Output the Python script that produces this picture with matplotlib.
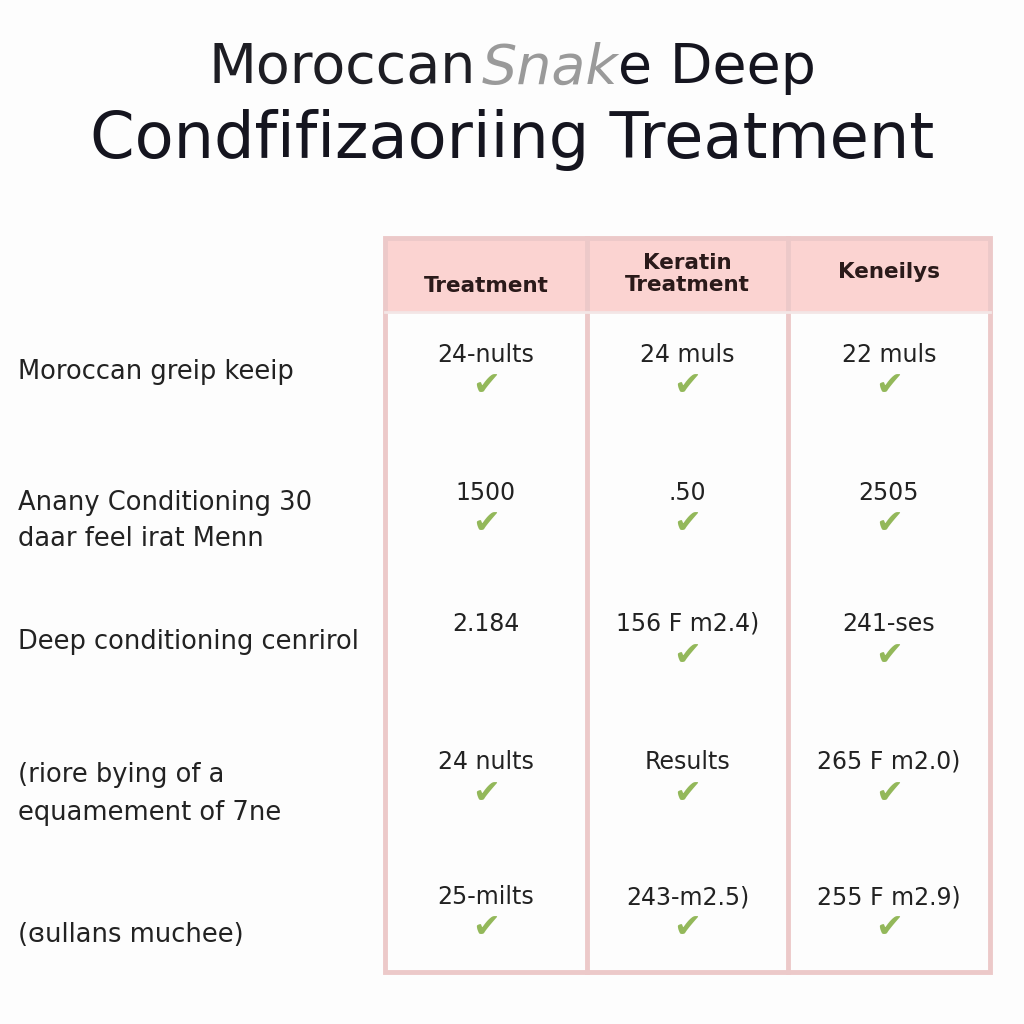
import matplotlib.pyplot as plt
from matplotlib.patches import Rectangle

# table content
col_headers = ['Treatment', 'Keratin\nTreatment', 'Keneilys']
row_labels = ['Moroccan greip keeip',
              'Anany Conditioning 30\ndaar feel irat Menn',
              'Deep conditioning cenrirol',
              '(riore bying of a\nequamement of 7ne',
              '(ɞullans muchee)']
cell_text = [['24-nults', '24 muls', '22 muls'],
             ['1500', '.50', '2505'],
             ['2.184', '156 F m2.4)', '241-ses'],
             ['24 nults', 'Results', '265 F m2.0)'],
             ['25-milts', '243-m2.5)', '255 F m2.9)']]
checked = [[1, 1, 1],
           [1, 1, 1],
           [0, 1, 1],
           [1, 1, 1],
           [1, 1, 1]]
title_parts = ['Moroccan', 'Snak', 'e Deep']
title_line2 = 'Condfifizaoriing Treatment'

# layout in pixel units of the 1024 canvas
col_edges = [385, 587, 788, 990]
table_top, header_bottom, table_bottom = 238, 312, 972
row_text_y = [355, 493, 624, 762, 897]
row_label_y = [372, 521, 642, 794, 935]

plt.rcParams['font.family'] = ['DejaVu Sans']

fig = plt.figure(figsize=(10.24, 10.24), dpi=100)
ax = fig.add_axes([0, 0, 1, 1])
ax.set_xlim(0, 1024)
ax.set_ylim(1024, 0)
ax.axis('off')
fig.patch.set_facecolor('#fdfdfd')

# title line 1, three pieces laid side by side then centred
dark = '#15151f'
styles = [dict(color='#1e1e24'),
          dict(color='#9a9a9a', style='italic',
               family=['Liberation Sans Narrow', 'DejaVu Sans']),
          dict(color=dark)]
pieces = []
x = 0
fig.canvas.draw()
r = fig.canvas.get_renderer()
for txt, st in zip(title_parts, styles):
    t = ax.text(x, 68, txt, fontsize=40, va='center', ha='left', **st)
    w = t.get_window_extent(renderer=r).width
    pieces.append((t, w))
    x += w
gap = 6
total = sum(w for _, w in pieces) + gap
x = 512 - total / 2
for k, (t, w) in enumerate(pieces):
    t.set_x(x)
    x += w + (gap if k == 0 else 0)
ax.text(512, 140, title_line2, fontsize=46, color=dark,
        va='center', ha='center')

# header band and grid
border = '#ecc9c9'
ax.add_patch(Rectangle((col_edges[0], table_top), col_edges[-1] - col_edges[0],
                       header_bottom - table_top, facecolor='#fbd3d1', edgecolor='none'))
ax.add_patch(Rectangle((col_edges[0], table_top), col_edges[-1] - col_edges[0],
                       table_bottom - table_top, facecolor='none', edgecolor=border, lw=3.5))
for xe in col_edges[1:-1]:
    ax.plot([xe, xe], [table_top, table_bottom], color=border, lw=3.5)
ax.plot([col_edges[0], col_edges[-1]], [header_bottom, header_bottom], color='#f3e6e6', lw=2)

header_y = [286, 274, 272]
for j, h in enumerate(col_headers):
    cx = (col_edges[j] + col_edges[j + 1]) / 2
    ax.text(cx, header_y[j], h, fontsize=15.5, fontweight='bold', color='#2a1a1a',
            ha='center', va='center', linespacing=1.1)

for i, row in enumerate(cell_text):
    ax.text(18, row_label_y[i], row_labels[i], fontsize=18.5, color='#222222',
            ha='left', va='center', linespacing=1.55)
    for j, val in enumerate(row):
        cx = (col_edges[j] + col_edges[j + 1]) / 2
        ax.text(cx, row_text_y[i], val, fontsize=17, color='#222222', ha='center', va='center')
        if checked[i][j]:
            ax.text(cx, row_text_y[i] + 31, '✔', fontsize=24, color='#93b85a',
                    ha='center', va='center')

fig.savefig('out.png', dpi=100, facecolor=fig.get_facecolor())
